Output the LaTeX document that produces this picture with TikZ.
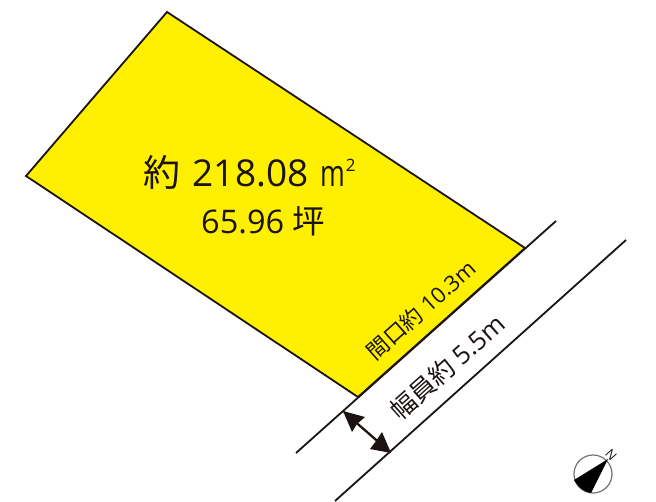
\documentclass[tikz,border=0pt]{standalone}
\usepackage{fontspec}
\setmainfont{Open Sans}
\newfontfamily\cjk{Noto Sans CJK JP}
\definecolor{lotyellow}{HTML}{FFF000}
\definecolor{txt}{HTML}{1A1311}
\tikzset{
  roadline/.style={draw=txt,line width=1.8pt},
  lotshape/.style={fill=lotyellow,draw=txt,line width=1.8pt,line join=miter},
  label/.style={text=txt,inner sep=0pt},
}
\begin{document}
\begin{tikzpicture}[x=1pt,y=-1pt]
\useasboundingbox (0,0) rectangle (656,501);
\fill[white] (0,0) rectangle (656,501);
\coordinate (a1) at (556,221);
\coordinate (a2) at (296,453);
\coordinate (b1) at (626,240);
\coordinate (b2) at (335,501);
\draw[roadline] (a1) -- (a2);
\draw[roadline] (b1) -- (b2);
\coordinate (p1) at (167,12);
\coordinate (p2) at (525,248);
\coordinate (p3) at (358,397);
\coordinate (p4) at (26,176);
\draw[lotshape] (p1) -- (p2) -- (p3) -- (p4) -- cycle;
\node[label,font=\fontsize{37}{37}\selectfont,anchor=base west] (area) at (143,186) {{\cjk 約}\hspace{3pt} 218.08\hspace{2pt} \scalebox{.72}[1]{m}\raisebox{15pt}{\fontsize{17}{17}\selectfont\hspace{1pt}2}};
\node[label,font=\fontsize{32.5}{32.5}\selectfont,anchor=base west] (tsubo) at (201,233.5) {65.96 {\cjk 坪}};
\node[label,font=\fontsize{22}{22}\selectfont,rotate=41.6] (front) at (421,310) {{\cjk 間口約} 10.3m};
\node[label,font=\fontsize{25.5}{25.5}\selectfont,rotate=41.6] (width) at (447.5,367) {{\cjk 幅員約} 5.5m};
\coordinate (w1) at (344,412);
\coordinate (w2) at (390,452);
\draw[draw=txt,line width=2.3pt] (w1) -- (w2);
\fill[txt] (343,411) -- (352,432) -- (357,424) -- (365,417) -- cycle;
\fill[txt] (391,453) -- (370,449) -- (376,441) -- (382,432) -- cycle;
\node[circle,draw=black!55,line width=1.2pt,minimum size=38pt,inner sep=0pt] (compass) at (593,474) {};
\fill[black] (608,459) -- (574,480) .. controls (578,487) and (584,492) .. (591,493) -- cycle;
\node[label,font=\fontsize{13}{13}\selectfont,rotate=-48] (north) at (611,455) {N};
\end{tikzpicture}
\end{document}
